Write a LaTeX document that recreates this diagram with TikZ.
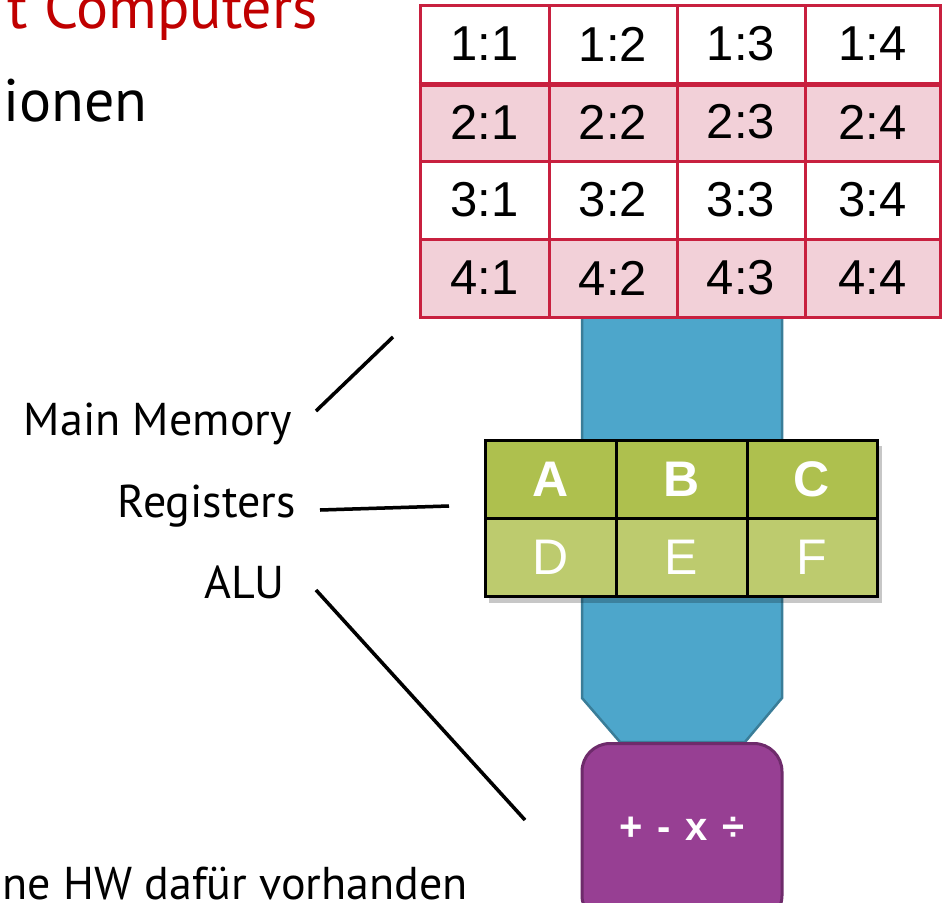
\documentclass[tikz,border=0pt]{standalone}
\usepackage{fontspec}
\setmainfont{PT Sans}
\newfontfamily\cellfont{Liberation Sans}
\usetikzlibrary{shadows}

\definecolor{memred}{HTML}{C8203F}
\definecolor{mempink}{HTML}{F2D0D8}
\definecolor{busblue}{HTML}{4DA6CB}
\definecolor{busedge}{HTML}{3A7D98}
\definecolor{regdark}{HTML}{AEC04E}
\definecolor{reglight}{HTML}{BDCB6E}
\definecolor{alupurple}{HTML}{973F93}
\definecolor{aluedge}{HTML}{6E2B6B}
\definecolor{titlered}{HTML}{C00000}

\begin{document}
\begin{tikzpicture}[x=1pt,y=-1pt,
  memcell/.style={draw=memred, line width=3pt, inner sep=0pt,
    font=\cellfont\fontsize{49}{52}\selectfont},
  regcell/.style={draw=black, line width=3pt, inner sep=0pt,
    text=white, minimum height=78pt},
  label/.style={inner sep=0pt, font=\fontsize{46}{50}\selectfont},
  callout/.style={line width=3.5pt, black},
  calloutshade/.style={line width=3.5pt, black, opacity=0.18}
]
\useasboundingbox (0,0) rectangle (942,902);
\clip (0,0) rectangle (942,902);

% slide text around the diagram
\node[label, anchor=base east, text=titlered, font=\fontsize{60}{64}\selectfont]
  (title) at (318,28) {t Computers};
\node[label, anchor=base east, font=\fontsize{60}{64}\selectfont]
  (bullet) at (148,121) {ionen};
\node[label, anchor=base east] (note) at (468,899) {ne HW dafür vorhanden};

% data bus from memory down to the ALU
\draw[fill=busblue, draw=busedge, line width=2.5pt]
  (582,317) coordinate (bustop) -- (782,317) -- (782,698) -- (745,742)
  -- (620,742) -- (582,698) -- cycle;

% main memory grid
\foreach \r/\ya/\yb in {1/5/83, 2/83/161, 3/161/239, 4/239/317}{
  \foreach \c/\xa/\xb in {1/420/549, 2/549/677, 3/677/805, 4/805/940}{
    \pgfmathsetmacro\w{\xb-\xa}
    \pgfmathsetmacro\h{\yb-\ya}
    \pgfmathsetmacro\cx{(\xa+\xb)/2}
    \pgfmathsetmacro\cy{(\ya+\yb)/2}
    \ifodd\r \def\cellfill{white}\else\def\cellfill{mempink}\fi
    \node[memcell, fill=\cellfill, minimum width=\w pt, minimum height=\h pt]
      (m\r\c) at (\cx,\cy) {\r:\c};
  }
}
\draw[memred, line width=5pt] (m11.south west) -- (m14.south east);

% registers
\begin{scope}[font=\cellfont\fontsize{50}{52}\selectfont]
\fill[black, opacity=0.22] (489,446) rectangle (882,603);
\node[regcell, fill=regdark, minimum width=131pt, font=\cellfont\bfseries\fontsize{50}{52}\selectfont]
  (rA) at (550.5,479) {A};
\node[regcell, fill=regdark, minimum width=131pt, font=\cellfont\bfseries\fontsize{50}{52}\selectfont]
  (rB) at (681.5,479) {B};
\node[regcell, fill=regdark, minimum width=130pt, font=\cellfont\bfseries\fontsize{50}{52}\selectfont]
  (rC) at (812,479) {C};
\node[regcell, fill=reglight, minimum width=131pt] (rD) at (550.5,557) {D};
\node[regcell, fill=reglight, minimum width=131pt] (rE) at (681.5,557) {E};
\node[regcell, fill=reglight, minimum width=130pt] (rF) at (812,557) {F};
\end{scope}

% arithmetic logic unit
\node[draw=aluedge, fill=alupurple, line width=3pt, rounded corners=28pt,
  minimum width=200pt, minimum height=180pt, anchor=north, inner sep=0pt]
  (alu) at (682,742) {};
\node[text=white, font=\cellfont\bfseries\fontsize{40}{44}\selectfont, inner sep=0pt]
  (ops) at (682,829) {+\hspace{15pt}-\hspace{15pt}x\hspace{15pt}÷};

% callout lines for the labels
\node[label, anchor=base east] (lmem) at (292,435) {Main Memory};
\node[label, anchor=base east] (lreg) at (296,517) {Registers};
\node[label, anchor=base east] (lalu) at (285,598) {ALU};

\coordinate (memA) at (316,411);
\coordinate (memB) at (393,337);
\coordinate (regA) at (320,510);
\coordinate (regB) at (449,506);
\coordinate (aluA) at (316,590);
\coordinate (aluB) at (525,820);

\begin{scope}[shift={(1.5,2.5)}]
\draw[calloutshade] (memA) -- (memB);
\draw[calloutshade] (regA) -- (regB);
\draw[calloutshade] (aluA) -- (aluB);
\end{scope}
\draw[callout] (memA) -- (memB);
\draw[callout] (regA) -- (regB);
\draw[callout] (aluA) -- (aluB);
\end{tikzpicture}
\end{document}
